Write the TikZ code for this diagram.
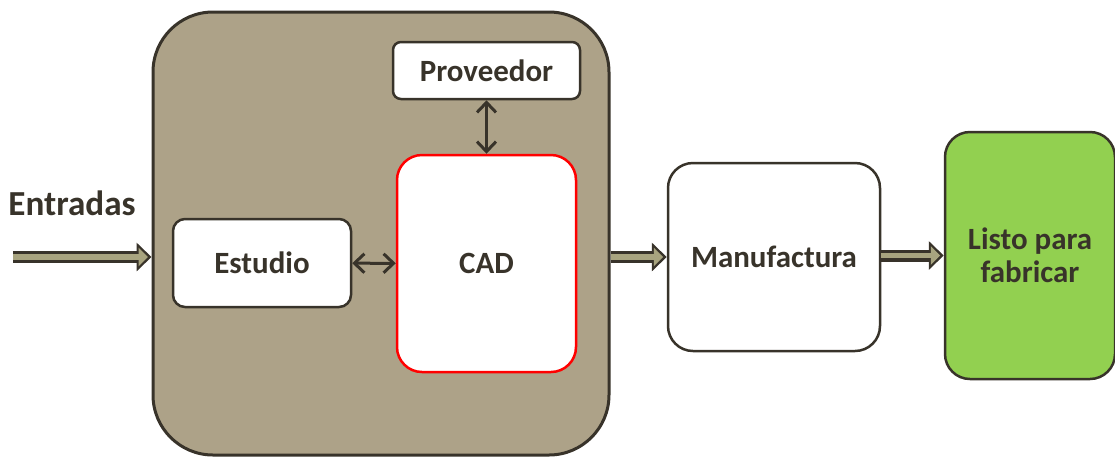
\documentclass[tikz,border=0pt]{standalone}
\usepackage{fontspec}
\setmainfont{Carlito}
\usetikzlibrary{arrows.meta}
\definecolor{taupe}{HTML}{ADA288}
\definecolor{edge}{HTML}{38332A}
\definecolor{shaft}{HTML}{A8A47F}
\definecolor{ready}{HTML}{92D050}

\begin{document}
\begin{tikzpicture}
    \tikzstyle{blk} = [draw=edge,line width=0.05cm,fill=white,rounded corners=0.5cm,font=\fontsize{17.6}{19}\selectfont\bfseries,text=edge,align=center,inner sep=0pt]
    \tikzstyle{fatout} = [line width=0.24cm,edge,-{Triangle[width=0.56cm,length=0.3cm]}]
    \tikzstyle{fatin} = [line width=0.11cm,shaft,shorten >=0.07cm,-{Triangle[width=0.36cm,length=0.19cm]}]
    \tikzstyle{link} = [line width=0.06cm,edge,{Straight Barb[length=0.2cm,width=0.38cm]}-{Straight Barb[length=0.2cm,width=0.38cm]}]
    \useasboundingbox (0,0) rectangle (22.3,-9.14);
    \node [blk,fill=taupe,line width=0.06cm,rounded corners=1.2cm,minimum width=9.12cm,minimum height=8.86cm] (cell) at (7.62,-4.67) {};
    \node [blk,rounded corners=0.16cm,minimum width=3.74cm,minimum height=1.14cm] (prov) at (9.73,-1.41) {Proveedor};
    \node [blk,draw=red,minimum width=3.58cm,minimum height=4.34cm] (cad) at (9.73,-5.27) {CAD};
    \node [blk,rounded corners=0.24cm,minimum width=3.56cm,minimum height=1.76cm] (est) at (5.24,-5.26) {Estudio};
    \node [blk,minimum width=4.24cm,minimum height=3.76cm] (manu) at (15.48,-5.14) {Manufactura};
    \node [blk,fill=ready,minimum width=3.4cm,minimum height=4.94cm] (listo) at (20.6,-5.11) {Listo para\\fabricar};
    \node [font=\fontsize{20}{24}\selectfont\bfseries,text=edge] (inp) at (1.44,-4.06) {Entradas};
    \coordinate (src) at (0.26,-5.14);
    \draw [fatout] (src) -- (src -| cell.west);
    \draw [fatin] (src) -- (src -| cell.west);
    \draw [fatout] (manu.west -| cell.east) -- (manu.west);
    \draw [fatin] (manu.west -| cell.east) -- (manu.west);
    \draw [fatout] (listo.west -| manu.east) -- (listo.west);
    \draw [fatin] (listo.west -| manu.east) -- (listo.west);
    \draw [link] (est) -- (cad);
    \draw [link] (prov) -- (cad);
\end{tikzpicture}
\end{document}
